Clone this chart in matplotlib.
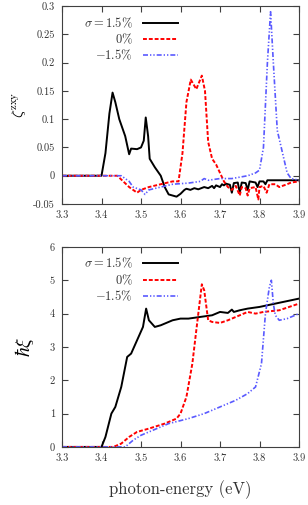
import matplotlib
matplotlib.use("Agg")
import matplotlib.pyplot as plt

plt.rcParams['font.family'] = ['cmr10', 'DejaVu Serif']
plt.rcParams['mathtext.fontset'] = 'cm'
plt.rcParams['axes.unicode_minus'] = False

# top panel: zeta^zxy
e_top_black = [3.30, 3.40, 3.41, 3.42, 3.428, 3.435, 3.445, 3.46, 3.47, 3.475, 3.49, 3.50, 3.507,
               3.512, 3.518, 3.522, 3.535, 3.55, 3.56, 3.57, 3.58, 3.59, 3.60, 3.61, 3.615, 3.625,
               3.635, 3.645, 3.66, 3.67, 3.68, 3.685, 3.69, 3.70, 3.705, 3.71, 3.715, 3.725, 3.73,
               3.735, 3.745, 3.75, 3.755, 3.765, 3.77, 3.775, 3.79, 3.795, 3.80, 3.81, 3.815, 3.82,
               3.86, 3.90]
z_black = [0, 0, 0.04, 0.11, 0.147, 0.13, 0.10, 0.07, 0.038, 0.048, 0.047, 0.05, 0.062,
           0.103, 0.07, 0.03, 0.015, 0.0, -0.02, -0.033, -0.035, -0.037, -0.032, -0.025, -0.023, -0.025,
           -0.022, -0.024, -0.02, -0.022, -0.018, -0.022, -0.017, -0.02, -0.015, -0.017, -0.014, -0.016, -0.03,
           -0.013, -0.012, -0.03, -0.012, -0.013, -0.025, -0.01, -0.012, -0.02, -0.01, -0.01, -0.015, -0.008,
           -0.008, -0.008]

e_top_red = [3.30, 3.44, 3.47, 3.49, 3.50, 3.52, 3.55, 3.58, 3.595, 3.605, 3.615, 3.626, 3.64,
             3.654, 3.662, 3.67, 3.68, 3.69, 3.70, 3.71, 3.72, 3.73, 3.74, 3.75, 3.755, 3.765, 3.77,
             3.775, 3.79, 3.797, 3.80, 3.81, 3.818, 3.825, 3.84, 3.85, 3.87, 3.88, 3.90]
z_red = [0, 0, -0.02, -0.03, -0.025, -0.02, -0.015, -0.01, -0.01, 0.04, 0.13, 0.170, 0.153,
         0.177, 0.15, 0.06, 0.03, 0.02, 0.005, -0.01, -0.02, -0.025, -0.018, -0.035, -0.02, -0.022, -0.035,
         -0.022, -0.02, -0.042, -0.02, -0.018, -0.03, -0.015, -0.015, -0.02, -0.015, -0.012, -0.01]

e_top_blue = [3.30, 3.45, 3.47, 3.48, 3.50, 3.51, 3.52, 3.55, 3.58, 3.62, 3.65, 3.66, 3.67, 3.70,
              3.73, 3.77, 3.79, 3.80, 3.81, 3.82, 3.828, 3.835, 3.845, 3.855, 3.87, 3.88, 3.90]
z_blue = [0, 0, -0.01, -0.02, -0.025, -0.033, -0.025, -0.02, -0.015, -0.013, -0.01, -0.005, -0.008, -0.005,
          -0.005, 0.0, 0.005, 0.01, 0.05, 0.2, 0.29, 0.2, 0.08, 0.05, 0.005, -0.005, -0.008]

# bottom panel: hbar xi
e_bot_black = [3.30, 3.40, 3.41, 3.425, 3.435, 3.45, 3.465, 3.475, 3.49, 3.505, 3.513, 3.52, 3.535,
               3.55, 3.58, 3.60, 3.62, 3.65, 3.68, 3.70, 3.72, 3.73, 3.735, 3.75, 3.77, 3.80, 3.84,
               3.88, 3.90]
xi_black = [0, 0, 0.3, 1.0, 1.2, 1.8, 2.7, 2.8, 3.2, 3.6, 4.15, 3.8, 3.6,
            3.65, 3.8, 3.85, 3.85, 3.9, 3.95, 4.05, 4.02, 4.12, 4.05, 4.1, 4.15, 4.2, 4.3,
            4.4, 4.45]

e_bot_red = [3.30, 3.43, 3.45, 3.47, 3.49, 3.52, 3.56, 3.59, 3.60, 3.615, 3.63, 3.64, 3.654, 3.66,
             3.67, 3.68, 3.70, 3.72, 3.74, 3.77, 3.79, 3.81, 3.85, 3.90]
xi_red = [0, 0, 0.1, 0.3, 0.45, 0.55, 0.7, 0.85, 1.0, 1.5, 2.5, 3.5, 4.88, 4.7,
          3.8, 3.75, 3.72, 3.8, 3.9, 4.05, 4.0, 4.05, 4.1, 4.3]

e_bot_blue = [3.30, 3.46, 3.48, 3.50, 3.53, 3.57, 3.62, 3.66, 3.70, 3.74, 3.77, 3.79, 3.805, 3.815,
              3.825, 3.83, 3.835, 3.84, 3.85, 3.87, 3.90]
xi_blue = [0, 0, 0.2, 0.35, 0.5, 0.7, 0.85, 1.0, 1.2, 1.4, 1.6, 1.8, 2.5, 4.0,
           4.8, 5.0, 4.3, 3.95, 3.8, 3.85, 4.0]

labels = [r'$\sigma = 1.5\%$', r'$0\%$', r'$-1.5\%$']
x_ticks = [3.3, 3.4, 3.5, 3.6, 3.7, 3.8, 3.9]
x_ticklabels = ['3.3', '3.4', '3.5', '3.6', '3.7', '3.8', '3.9']
top_yticks = [-0.05, 0, 0.05, 0.1, 0.15, 0.2, 0.25, 0.3]
top_yticklabels = ['-0.05', '0', '0.05', '0.1', '0.15', '0.2', '0.25', '0.3']
bot_yticks = [0, 1, 2, 3, 4, 5, 6]

gray = '0.25'
blue = '#5a5aff'
dashdotdot = (0, (3, 1.2, 0.8, 1.2, 0.8, 1.2))

fig = plt.figure(figsize=(3.08, 5.05), dpi=100)
ax1 = fig.add_axes([0.2013, 0.596, 0.7695, 0.392])
ax2 = fig.add_axes([0.2013, 0.115, 0.7695, 0.396])

ax1.plot(e_top_black, z_black, color='black', lw=1.4, label=labels[0])
ax1.plot(e_top_red, z_red, color='red', lw=1.4, ls=(0, (2, 1)), label=labels[1])
ax1.plot(e_top_blue, z_blue, color=blue, lw=1.2, ls=dashdotdot, label=labels[2])
ax1.set_ylim(-0.05, 0.3)
ax1.set_yticks(top_yticks)
ax1.set_yticklabels(top_yticklabels)
ax1.set_ylabel(r'$\zeta^{\rm zxy}$', fontsize=11, labelpad=4)

ax2.plot(e_bot_black, xi_black, color='black', lw=1.4, label=labels[0])
ax2.plot(e_bot_red, xi_red, color='red', lw=1.4, ls=(0, (2, 1)), label=labels[1])
ax2.plot(e_bot_blue, xi_blue, color=blue, lw=1.2, ls=dashdotdot, label=labels[2])
ax2.set_ylim(0, 6)
ax2.set_yticks(bot_yticks)
ax2.set_ylabel(r'$\hbar\xi$', fontsize=14, labelpad=10)
ax2.set_xlabel('photon-energy (eV)', fontsize=12, labelpad=12, color='0.2')

for ax in (ax1, ax2):
    ax.set_xlim(3.3, 3.9)
    ax.set_xticks(x_ticks)
    ax.set_xticklabels(x_ticklabels)
    ax.tick_params(direction='in', length=4, width=0.8, top=True, right=True,
                   labelsize=7.5, colors=gray, labelcolor='0.2', pad=5)
    for s in ax.spines.values():
        s.set_color(gray)
        s.set_linewidth(0.8)
    leg = ax.legend(loc='upper left', bbox_to_anchor=(0.06, 0.99), frameon=False,
                    markerfirst=False, fontsize=9, handlelength=2.8, handletextpad=0.8,
                    labelspacing=0.15, borderaxespad=0.2)
    for col in leg._legend_handle_box.get_children():
        col.align = 'right'
    for t in leg.get_texts():
        t.set_color('0.2')

fig.savefig('out.png', dpi=100)
